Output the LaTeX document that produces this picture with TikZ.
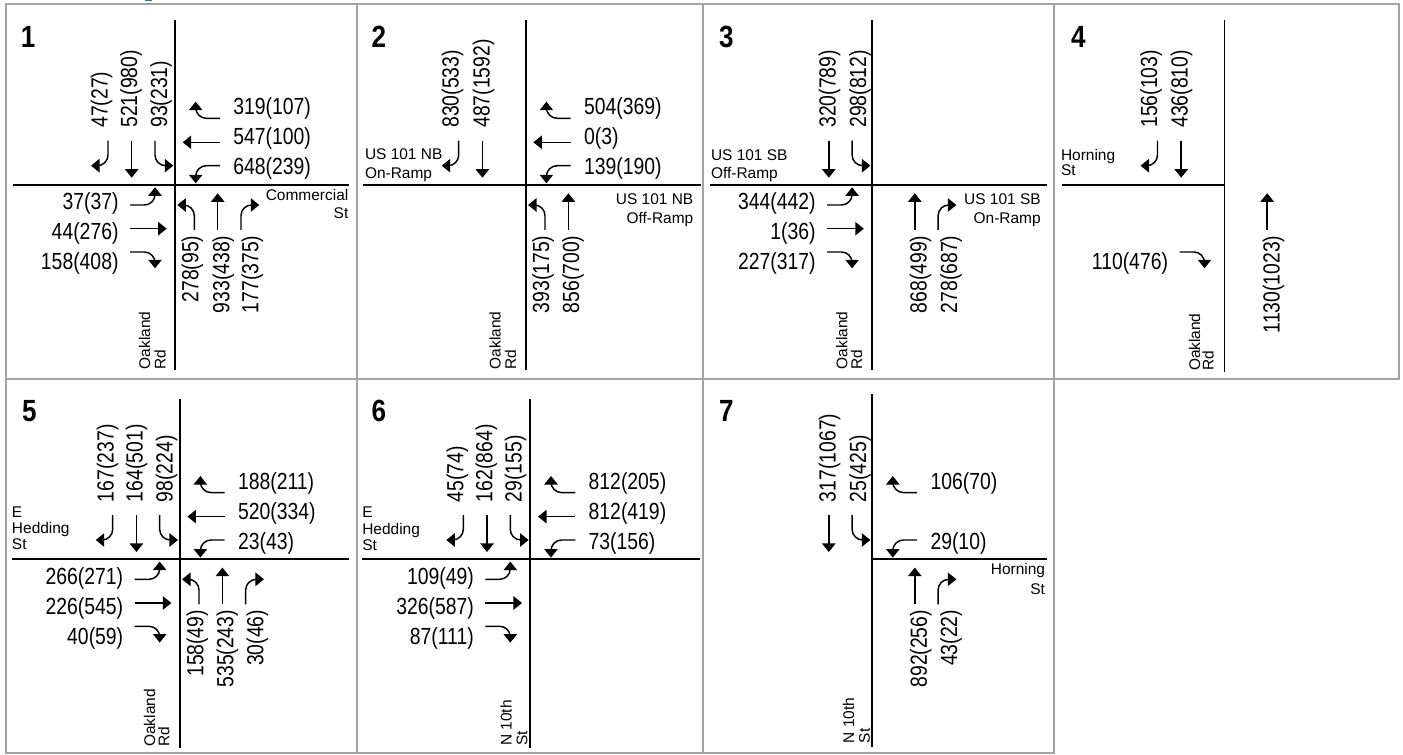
\documentclass[tikz,border=0pt]{standalone}
\usepackage{fontspec}
\usetikzlibrary{arrows.meta}
\setmainfont{Liberation Sans}
\newfontfamily\numfont[FakeStretch=0.83]{Liberation Sans}
\newfontfamily\hdfont[FakeStretch=0.85]{Liberation Sans Bold}
\definecolor{frame}{HTML}{A3A3A3}
\definecolor{titleblue}{HTML}{2F6C96}
\tikzset{
  frameline/.style={draw=frame,line width=1.5pt},
  road/.style={draw=black,line width=1.4pt},
  mv/.style={draw=black,line width=1.1pt,rounded corners=8pt,-{Triangle[width=10pt,length=6.4pt]}},
  vol/.style={font=\fontsize{17.5pt}{19pt}\numfont,inner sep=0pt,outer sep=0pt},
  st/.style={font=\fontsize{11.6pt}{13pt}\selectfont,inner sep=0pt,outer sep=0pt},
  hd/.style={font=\fontsize{23pt}{26pt}\hdfont,inner sep=0pt,outer sep=0pt,anchor=base west}
}
% movement arrows, relative to the intersection
\newcommand{\mSBL}{\draw[mv] (-67,-44.3) -- (-67,-19.3) -- (-84,-19.3);}
\newcommand{\mSBT}{\draw[mv] (-43.3,-44.3) -- (-43.3,-7.3);}
\newcommand{\mSBR}{\draw[mv] (-20,-44.3) -- (-20,-19.3) -- (-1.7,-19.3);}
\newcommand{\mWBR}{\draw[mv] (45,-66.7) -- (20.7,-66.7) -- (20.7,-83.3);}
\newcommand{\mWBT}{\draw[mv] (45,-42.7) -- (7.7,-42.7);}
\newcommand{\mWBL}{\draw[mv] (45,-19.3) -- (20.7,-19.3) -- (20.7,-1.7);}
\newcommand{\mEBL}{\draw[mv] (-45,20) -- (-20,20) -- (-20,2.3);}
\newcommand{\mEBT}{\draw[mv] (-45,43.7) -- (-8.3,43.7);}
\newcommand{\mEBR}{\draw[mv] (-45,67) -- (-20,67) -- (-20,83.3);}
\newcommand{\mNBL}{\draw[mv] (19.3,45) -- (19.3,20) -- (2.3,20);}
\newcommand{\mNBT}{\draw[mv] (42.7,45) -- (42.7,8.3);}
\newcommand{\mNBR}{\draw[mv] (66,45) -- (66,20) -- (84.3,20);}
% volume labels
\newcommand{\lS}[3]{\node[vol,rotate=90,anchor=base west] (#1) at (#2,-57.3) {#3};}
\newcommand{\lN}[3]{\node[vol,rotate=90,anchor=base east] (#1) at (#2,50.7) {#3};}
\newcommand{\lW}[3]{\node[vol,anchor=base west] (#1) at (58.4,#2) {#3};}
\newcommand{\lE}[3]{\node[vol,anchor=base east] (#1) at (-56.5,#2) {#3};}
% street names
\newcommand{\sV}[4]{\node[st,rotate=90,anchor=base west] (#1) at (#2,#3) {#4};}
\begin{document}
\begin{tikzpicture}[x=0.75pt,y=-0.75pt]
\useasboundingbox (0,0) rectangle (1403,755);
\fill[white] (0,0) rectangle (1403,755);
\fill[titleblue] (145,0) rectangle (152,1.3);
% frames
\draw[frameline] (6,4.5) rectangle (1399,379);
\draw[frameline] (6,379) -- (6,752.5) -- (1053.5,752.5) -- (1053.5,379);
\draw[frameline] (357,4.5) -- (357,752.5);
\draw[frameline] (703,4.5) -- (703,752.5);
\draw[frameline] (1053.5,4.5) -- (1053.5,379);

% ---------- 1
\node[hd] (n1) at (21,47.7) {1};
\draw[road] (175,20) -- (175,370);
\draw[road] (12.7,185) -- (349,185);
\begin{scope}[shift={(175,185)}]
\mSBL \mSBT \mSBR \mWBR \mWBT \mWBL \mEBL \mEBT \mEBR \mNBL \mNBT \mNBR
\lS{a1}{-67.5}{47(27)} \lS{a2}{-38}{521(980)} \lS{a3}{-8}{93(231)}
\lW{a4}{-70}{319(107)} \lW{a5}{-40}{547(100)} \lW{a6}{-10}{648(239)}
\lE{a7}{25}{37(37)} \lE{a8}{55}{44(276)} \lE{a9}{85}{158(408)}
\lN{a10}{23.3}{278(95)} \lN{a11}{54.3}{933(438)} \lN{a12}{83.3}{177(375)}
\sV{a13}{-25}{184.3}{Oakland} \sV{a14}{-9.3}{184.3}{Rd}
\end{scope}
\node[st,anchor=base east] (a15) at (348.3,201) {Commercial};
\node[st,anchor=base east] (a16) at (348.3,219) {St};

% ---------- 2
\node[hd] (n2) at (371.7,47.7) {2};
\draw[road] (525.7,20) -- (525.7,370);
\draw[road] (363.3,185) -- (700.7,185);
\begin{scope}[shift={(525.7,185)}]
\mSBL \mSBT \mWBR \mWBT \mWBL \mNBL \mNBT
\lS{b1}{-67}{830(533)} \lS{b2}{-36}{487(1592)}
\lW{b4}{-70}{504(369)} \lW{b5}{-40}{0(3)} \lW{b6}{-10}{139(190)}
\lN{b10}{23.3}{393(175)} \lN{b11}{53.3}{856(700)}
\sV{b13}{-25}{184.3}{Oakland} \sV{b14}{-9.7}{184.3}{Rd}
\end{scope}
\node[st,anchor=base west] (b15) at (365,160) {US 101 NB};
\node[st,anchor=base west] (b16) at (365,178.3) {On-Ramp};
\node[st,anchor=base east] (b17) at (693.3,204.3) {US 101 NB};
\node[st,anchor=base east] (b18) at (693.3,223.3) {Off-Ramp};

% ---------- 3
\node[hd] (n3) at (719,47.7) {3};
\draw[road] (872.1,20) -- (872.1,370);
\draw[road] (710,185) -- (1047,185);
\begin{scope}[shift={(872.1,185)}]
\mSBT \mSBR \mEBL \mEBT \mEBR \mNBT \mNBR
\lS{c1}{-36.4}{320(789)} \lS{c2}{-6}{298(812)}
\lE{c7}{25}{344(442)} \lE{c8}{55}{1(36)} \lE{c9}{85}{227(317)}
\lN{c10}{54.5}{868(499)} \lN{c11}{85}{278(687)}
\sV{c13}{-24.7}{184.3}{Oakland} \sV{c14}{-10}{184.3}{Rd}
\end{scope}
\node[st,anchor=base west] (c15) at (711,161) {US 101 SB};
\node[st,anchor=base west] (c16) at (711,179) {Off-Ramp};
\node[st,anchor=base east] (c17) at (1040.7,204.3) {US 101 SB};
\node[st,anchor=base east] (c18) at (1040.7,223.3) {On-Ramp};

% ---------- 4
\node[hd] (n4) at (1071,47.7) {4};
\draw[road] (1224.5,20) -- (1224.5,371.7);
\draw[road] (1061.8,185) -- (1224.5,185);
\begin{scope}[shift={(1224.5,185)}]
\mSBL \mSBT \mEBR \mNBT
\lS{d1}{-67.4}{156(103)} \lS{d2}{-36.9}{436(810)}
\lE{d9}{85}{110(476)}
\lN{d10}{55}{1130(1023)}
\sV{d13}{-24.3}{186}{Oakland} \sV{d14}{-10.8}{186}{Rd}
\end{scope}
\node[st,anchor=base west] (d15) at (1061,161) {Horning};
\node[st,anchor=base west] (d16) at (1061,175.7) {St};

% ---------- 5
\node[hd] (n5) at (22,421.7) {5};
\draw[road] (179.7,399) -- (179.7,748.3);
\draw[road] (12,559.3) -- (349,559.3);
\begin{scope}[shift={(179.7,559.3)}]
\mSBL \mSBT \mSBR \mWBR \mWBT \mWBL \mEBL \mEBT \mEBR \mNBL \mNBT \mNBR
\lS{e1}{-66}{167(237)} \lS{e2}{-37}{164(501)} \lS{e3}{-7}{98(224)}
\lW{e4}{-70}{188(211)} \lW{e5}{-40}{520(334)} \lW{e6}{-10}{23(43)}
\lE{e7}{25}{266(271)} \lE{e8}{55}{226(545)} \lE{e9}{85}{40(59)}
\lN{e10}{23.7}{158(49)} \lN{e11}{53.7}{535(243)} \lN{e12}{83.7}{30(46)}
\sV{e13}{-24.7}{187.4}{Oakland} \sV{e14}{-10.3}{187.4}{Rd}
\end{scope}
\node[st,anchor=base west] (e15) at (12,517.7) {E};
\node[st,anchor=base west] (e16) at (12,533.3) {Hedding};
\node[st,anchor=base west] (e17) at (12,549.3) {St};

% ---------- 6
\node[hd] (n6) at (371.7,421.7) {6};
\draw[road] (530.3,399) -- (530.3,748.3);
\draw[road] (362.3,559.3) -- (700,559.3);
\begin{scope}[shift={(530.3,559.3)}]
\mSBL \mSBT \mSBR \mWBR \mWBT \mWBL \mEBL \mEBT \mEBR
\lS{f1}{-67}{45(74)} \lS{f2}{-38}{162(864)} \lS{f3}{-8.7}{29(155)}
\lW{f4}{-70}{812(205)} \lW{f5}{-40}{812(419)} \lW{f6}{-10}{73(156)}
\lE{f7}{25}{109(49)} \lE{f8}{55}{326(587)} \lE{f9}{85}{87(111)}
\sV{f13}{-18.7}{186.4}{N 10th} \sV{f14}{-3}{186.4}{St}
\end{scope}
\node[st,anchor=base west] (f15) at (362.3,517.7) {E};
\node[st,anchor=base west] (f16) at (362.3,534.3) {Hedding};
\node[st,anchor=base west] (f17) at (362.3,550) {St};

% ---------- 7
\node[hd] (n7) at (719,421.7) {7};
\draw[road] (872.1,394.3) -- (872.1,746.7);
\draw[road] (872.1,559.3) -- (1047,559.3);
\begin{scope}[shift={(872.1,559.3)}]
\mSBT \mSBR \mWBR \mWBL \mNBT \mNBR
\lS{g1}{-36.4}{317(1067)} \lS{g2}{-6}{25(425)}
\lW{g4}{-70}{106(70)} \lW{g6}{-10}{29(10)}
\lN{g10}{54.8}{892(256)} \lN{g11}{85}{43(22)}
\sV{g13}{-18}{184}{N 10th} \sV{g14}{-2.2}{184}{St}
\end{scope}
\node[st,anchor=base east] (g15) at (1045,574.3) {Horning};
\node[st,anchor=base east] (g16) at (1045,594.3) {St};
\end{tikzpicture}
\end{document}
